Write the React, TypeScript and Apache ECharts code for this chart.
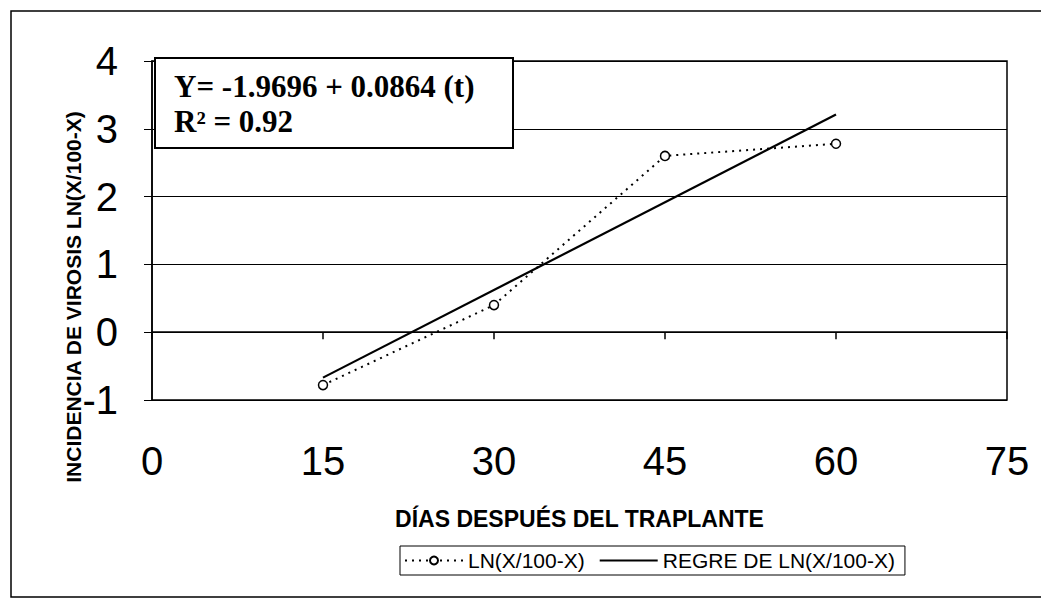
import React, { useEffect, useRef } from "react";
import * as echarts from "echarts";

const days = [15, 30, 45, 60];
const lnValues = [-0.78, 0.4, 2.6, 2.78];
const regreDays = [15, 60];
const regreValues = [-0.67, 3.21];
const xTicks = [0, 15, 30, 45, 60, 75];
const equationLines = ["Y= -1.9696 + 0.0864 (t)", "R² = 0.92"];
const seriesNames = ["LN(X/100-X)", "REGRE DE LN(X/100-X)"];
const yTitle = "INCIDENCIA DE VIROSIS LN(X/100-X)";
const xTitle = "DÍAS DESPUÉS DEL TRAPLANTE";

export default function App() {
  const ref = useRef<HTMLDivElement>(null);
  useEffect(() => {
    if (!ref.current) return;
    const chart = echarts.init(ref.current, null, { renderer: "svg" });
    chart.setOption({
      animation: false,
      backgroundColor: "#fff",
      textStyle: { fontFamily: "Liberation Sans, Arial, sans-serif", color: "#000" },
      grid: {
        left: 152,
        top: 61,
        right: 34,
        bottom: 199,
        show: true,
        borderColor: "#000",
        borderWidth: 1.5,
      },
      xAxis: {
        type: "value",
        min: xTicks[0],
        max: xTicks[xTicks.length - 1],
        interval: 15,
        name: xTitle,
        nameLocation: "middle",
        nameGap: 107,
        nameTextStyle: { fontSize: 23, fontWeight: "bold", color: "#000" },
        axisLine: { show: true, lineStyle: { color: "#000", width: 1.5 } },
        axisTick: { show: true, length: 7, lineStyle: { color: "#000", width: 1.5 } },
        axisLabel: { fontSize: 40, color: "#000", margin: 41 },
        splitLine: { show: false },
      },
      yAxis: {
        type: "value",
        min: -1,
        max: 4,
        interval: 1,
        axisLine: { show: true, lineStyle: { color: "#000", width: 1.5 } },
        axisTick: { show: true, length: 8, lineStyle: { color: "#000", width: 1 } },
        axisLabel: { fontSize: 40, color: "#000", margin: 34 },
        splitLine: { show: true, lineStyle: { color: "#000", width: 1 } },
      },
      legend: {
        left: 400,
        top: 546,
        orient: "horizontal",
        borderColor: "#000",
        borderWidth: 1,
        padding: [4, 10, 4, 4],
        itemGap: 14,
        itemWidth: 58,
        itemHeight: 10,
        textStyle: { fontSize: 21, color: "#000" },
        data: [
          { name: seriesNames[0] },
          { name: seriesNames[1], itemStyle: { opacity: 0 } },
        ],
      },
      series: [
        {
          name: seriesNames[0],
          type: "line",
          data: days.map((d, i) => [d, lnValues[i]]),
          symbol: "circle",
          symbolSize: 9,
          showSymbol: true,
          itemStyle: { color: "#fff", borderColor: "#000", borderWidth: 1.5 },
          lineStyle: { color: "#000", width: 2, type: [2, 5] },
          z: 3,
        },
        {
          name: seriesNames[1],
          type: "line",
          data: regreDays.map((d, i) => [d, regreValues[i]]),
          symbol: "none",
          itemStyle: { color: "#000" },
          lineStyle: { color: "#000", width: 2.2 },
          z: 2,
        },
      ],
      graphic: [
        {
          type: "rect",
          shape: { x: 11, y: 11, width: 1040, height: 586 },
          style: { fill: "none", stroke: "#000", lineWidth: 1.5 },
          silent: true,
        },
        {
          type: "text",
          x: 73,
          y: 297,
          rotation: Math.PI / 2,
          style: {
            text: yTitle,
            font: "bold 21px 'Liberation Sans', Arial, sans-serif",
            fill: "#000",
            align: "center",
            verticalAlign: "middle",
          },
        },
        {
          type: "rect",
          shape: { x: 155, y: 58, width: 358, height: 90 },
          style: { fill: "#fff", stroke: "#000", lineWidth: 2 },
          z: 10,
        },
        {
          type: "text",
          x: 174,
          y: 86,
          z: 11,
          style: {
            text: equationLines[0],
            font: "bold 31px 'Liberation Serif', 'Times New Roman', serif",
            fill: "#000",
            verticalAlign: "middle",
          },
        },
        {
          type: "text",
          x: 174,
          y: 121,
          z: 11,
          style: {
            text: equationLines[1],
            font: "bold 31px 'Liberation Serif', 'Times New Roman', serif",
            fill: "#000",
            verticalAlign: "middle",
          },
        },
      ],
    });
    return () => chart.dispose();
  }, []);
  return (
    <div
      ref={ref}
      style={{ position: "fixed", left: 0, top: 0, width: 1041, height: 599 }}
    />
  );
}
